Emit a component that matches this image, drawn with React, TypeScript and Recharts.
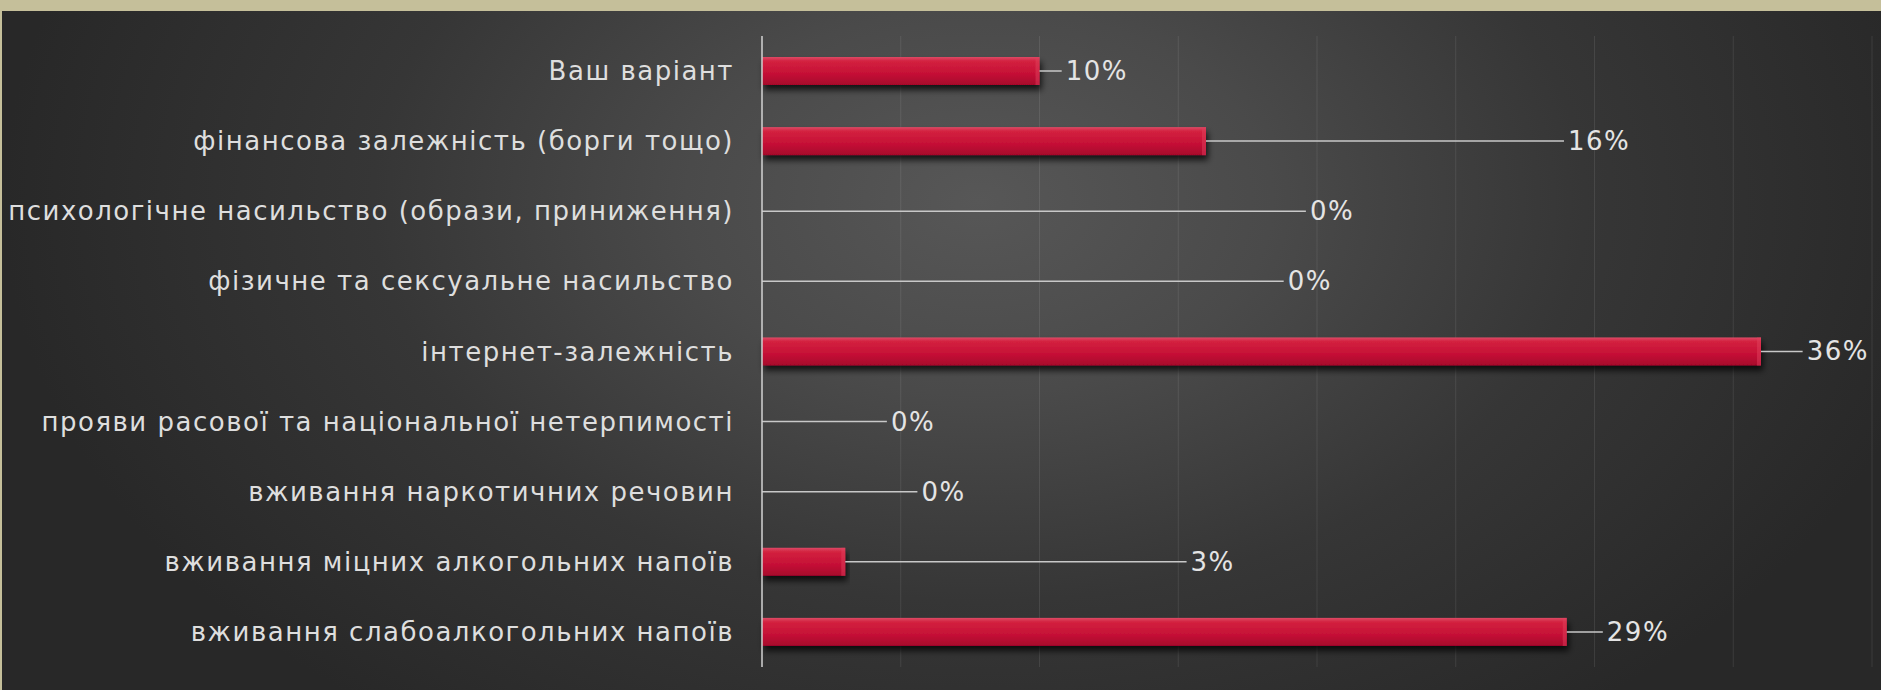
import { BarChart, Bar, XAxis, YAxis, CartesianGrid } from 'recharts'

const categories = [
  'Ваш варіант',
  'фінансова залежність (борги тощо)',
  'психологічне насильство (образи, приниження)',
  'фізичне та сексуальне насильство',
  'інтернет-залежність',
  'прояви расової та національної нетерпимості',
  'вживання наркотичних речовин',
  'вживання міцних алкогольних напоїв',
  'вживання слабоалкогольних напоїв',
]
const values = [10, 16, 0, 0, 36, 0, 0, 3, 29]
// where each dragged data label sits, in axis units (%)
const labelAt = [10.8, 28.9, 19.6, 18.8, 37.5, 4.5, 5.6, 15.3, 30.3]
const xTicks = [0, 5, 10, 15, 20, 25, 30, 35, 40]

const data = categories.map((name, i) => ({
  name,
  value: values[i],
  leader: labelAt[i] - values[i],
}))

const FONT = '"DejaVu Sans", sans-serif'

function RedBar(props: any) {
  const { x, y, width, height } = props
  if (!width || width <= 0) return <g />
  return (
    <g filter="url(#barShadow)">
      <rect x={x} y={y} width={width} height={height} fill="url(#barRed)" />
      <rect x={x + width - 4} y={y} width={4} height={height} fill="#e0405c" opacity={0.5} />
    </g>
  )
}

function Leader(props: any) {
  const { x, y, width, height, payload } = props
  const cy = y + height / 2
  return (
    <g>
      <line x1={x} y1={cy} x2={x + width} y2={cy} stroke="#c8c8c8" strokeWidth={1.5} />
      <text
        x={x + width + 4}
        y={cy}
        dominantBaseline="central"
        fill="#e4e4e4"
        fontSize={26}
        letterSpacing={1.5}
        fontFamily={FONT}
      >
        {payload.value}%
      </text>
    </g>
  )
}

function CategoryTick(props: any) {
  const { x, y, payload } = props
  return (
    <text
      x={x}
      y={y}
      textAnchor="end"
      dominantBaseline="central"
      fill="#dedede"
      fontSize={26}
      letterSpacing={1.5}
      fontFamily={FONT}
    >
      {payload.value}
    </text>
  )
}

export default function App() {
  return (
    <div style={{ position: 'absolute', left: 0, top: 0, width: 1881, height: 690, background: '#c5bf9a' }}>
      <div
        style={{
          position: 'absolute',
          left: 2,
          top: 11,
          right: 0,
          bottom: 0,
          background:
            'radial-gradient(ellipse 52% 95% at 52% 28%, #575757 0%, #4a4a4a 30%, #363636 62%, #282828 100%)',
        }}
      />
      <div style={{ position: 'absolute', left: 0, top: 0 }}>
        <BarChart
          width={1881}
          height={690}
          data={data}
          layout="vertical"
          margin={{ top: 36, right: 9, bottom: 23, left: 0 }}
        >
          <defs>
            <linearGradient id="barRed" x1="0" y1="0" x2="0" y2="1">
              <stop offset="0%" stopColor="#dc4a66" />
              <stop offset="15%" stopColor="#d3213f" />
              <stop offset="60%" stopColor="#c51036" />
              <stop offset="100%" stopColor="#a6062b" />
            </linearGradient>
            <filter id="barShadow" x="-5%" y="-30%" width="110%" height="180%">
              <feDropShadow dx={2} dy={5} stdDeviation={3} floodColor="#000" floodOpacity={0.75} />
            </filter>
          </defs>
          <CartesianGrid horizontal={false} stroke="rgba(255,255,255,0.09)" />
          <XAxis type="number" domain={[0, 40]} ticks={xTicks} hide />
          <YAxis
            type="category"
            dataKey="name"
            width={762}
            tickSize={0}
            tickMargin={28}
            axisLine={{ stroke: '#d0d0d0', strokeWidth: 1.5 }}
            tickLine={false}
            tick={<CategoryTick />}
            interval={0}
          />
          <Bar dataKey="value" stackId="a" barSize={28} shape={<RedBar />} isAnimationActive={false} />
          <Bar dataKey="leader" stackId="a" barSize={28} shape={<Leader />} isAnimationActive={false} />
        </BarChart>
      </div>
    </div>
  )
}
